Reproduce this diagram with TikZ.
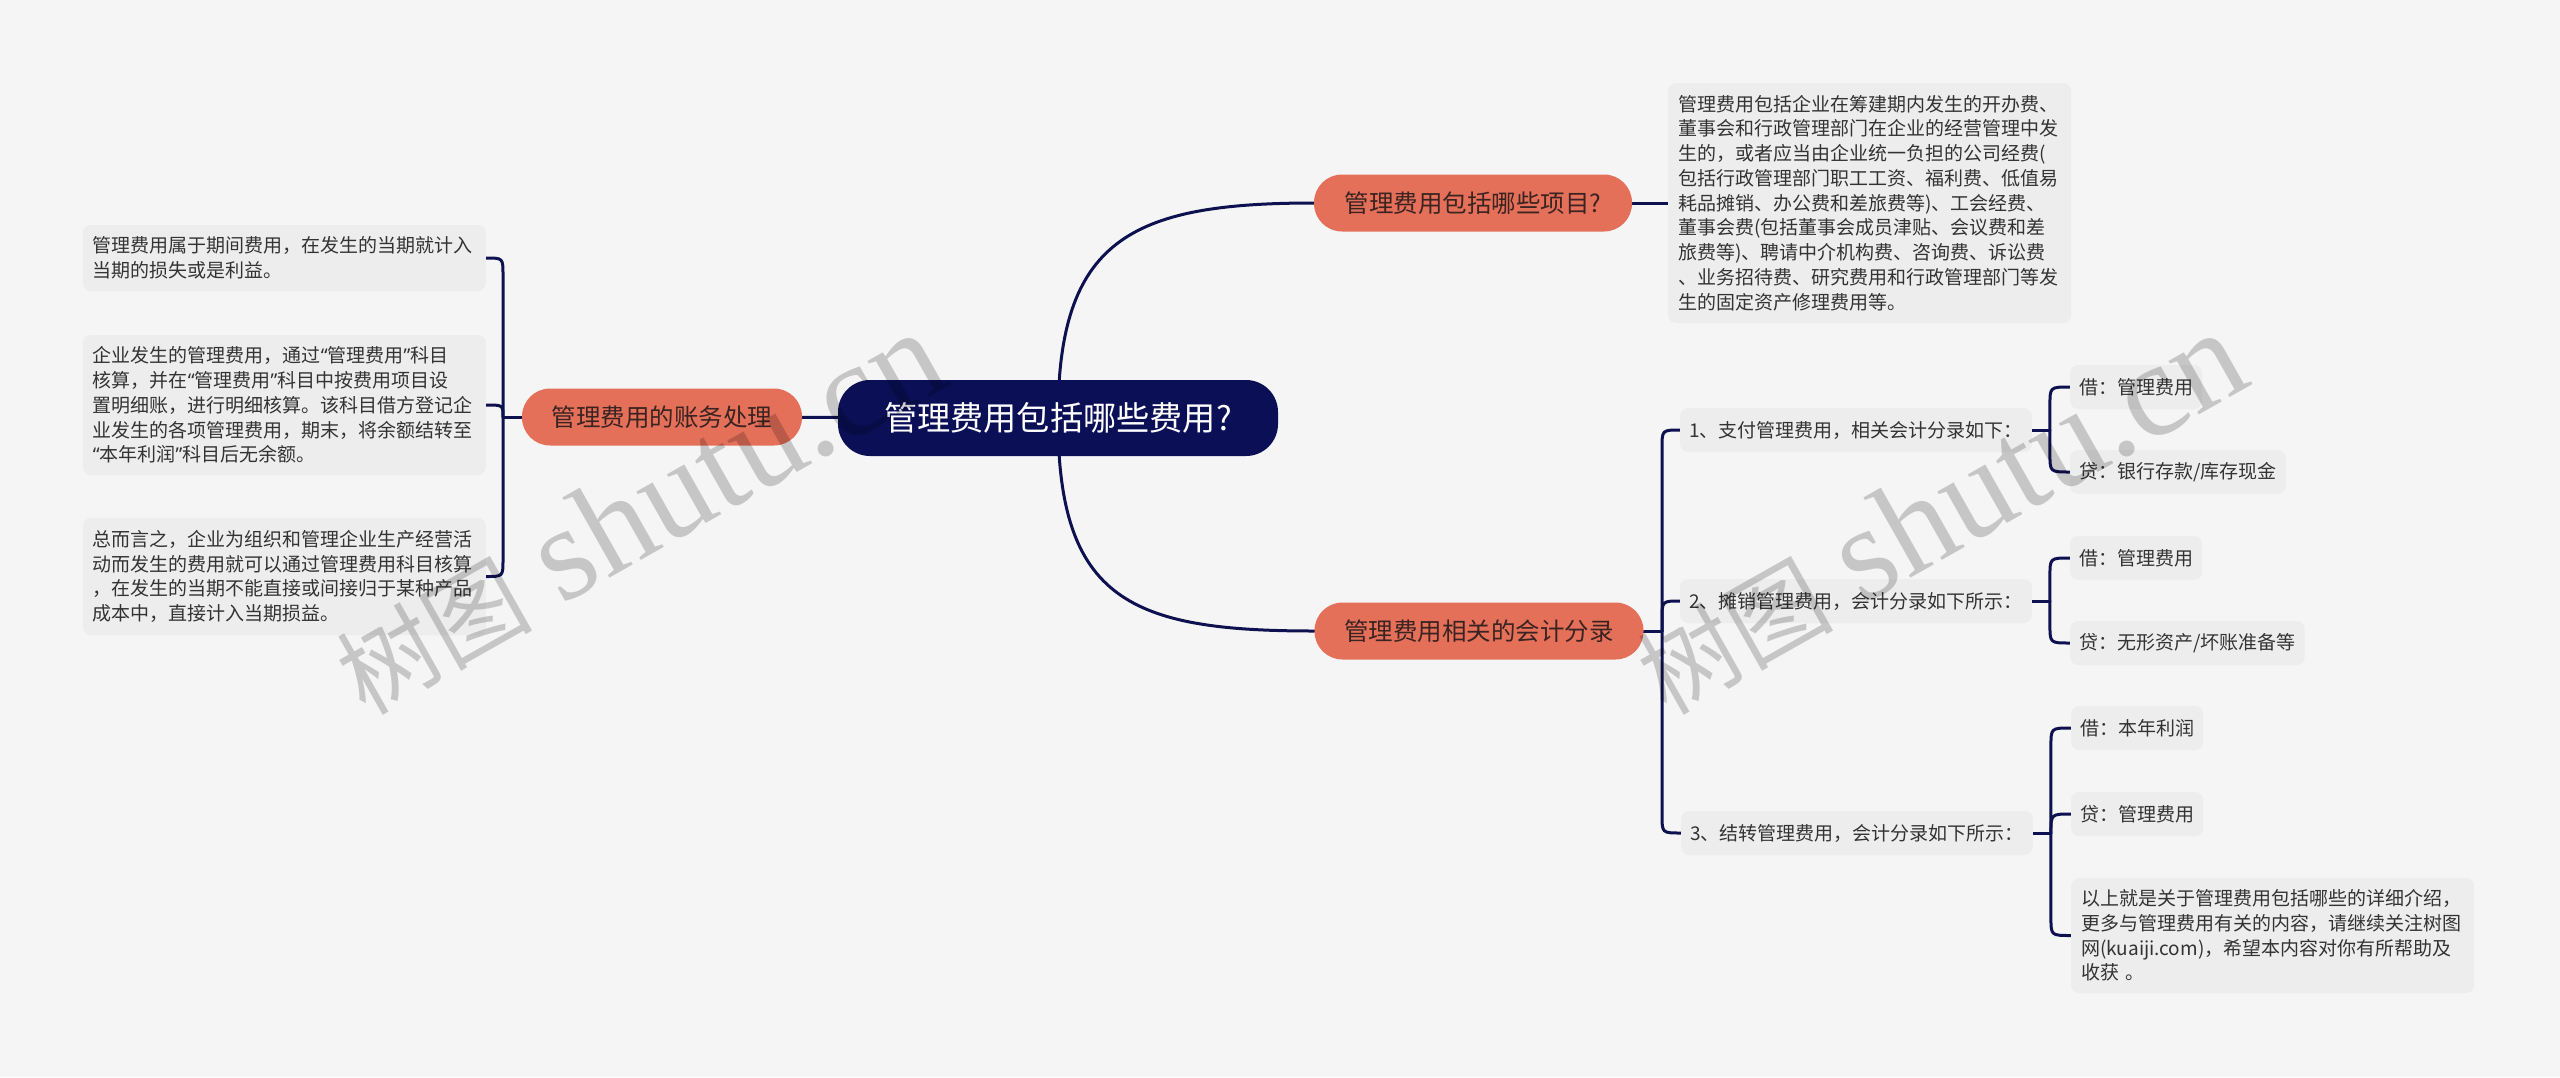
\documentclass[tikz,border=0pt]{standalone}
\usepackage{fontspec}
\setmainfont{Noto Sans CJK SC}
\newfontfamily\wmlatin{Liberation Serif}
\newfontfamily\qfont{Noto Sans}
\newcommand\zlq{{\qfont “}}
\newcommand\zrq{{\qfont ”}}
\usetikzlibrary{calc}
\pgfdeclarelayer{bg}
\pgfsetlayers{bg,main}
\definecolor{bgc}{HTML}{F5F5F5}
\definecolor{boxc}{HTML}{EDEDED}
\definecolor{navy}{HTML}{0B0F56}
\definecolor{linec}{HTML}{0E1150}
\definecolor{orng}{HTML}{E5705A}
\definecolor{orngtxt}{HTML}{3A2320}
\definecolor{txt}{HTML}{333333}
\tikzset{
  rootbox/.style={fill=navy, text=white, rounded corners=32, minimum width=440, minimum height=76, inner sep=0, font=\fontsize{33.2}{36}\selectfont},
  topic/.style={fill=orng, text=orngtxt, rounded corners=28, minimum height=57, inner sep=0, font=\fontsize{24.5}{28}\selectfont},
  leaf/.style={fill=boxc, text=txt, rounded corners=8, inner xsep=10, inner ysep=0, text width=383, align=left, font=\fontsize{19}{24.75}\selectfont},
  item/.style={fill=boxc, text=txt, rounded corners=8, inner xsep=9, inner ysep=0, minimum height=44, font=\fontsize{19}{24.75}\selectfont},
  conn/.style={draw=linec, line width=3, line cap=round},
  wm/.style={text=black, text opacity=0.19, rotate=29.5, anchor=base west, inner sep=0}
}
\begin{document}
\begin{tikzpicture}[x=1pt,y=-1pt]
\useasboundingbox (0,0) rectangle (2560,1077);

% central and main topics
\node[rootbox] (root) at (1058,418) {管理费用包括哪些费用?\hspace{13pt}};
\node[topic, minimum width=318] (O1) at (1473,203) {管理费用包括哪些项目?};
\node[topic, minimum width=329] (O2) at (1479,631) {管理费用相关的会计分录};
\node[topic, minimum width=280] (OL) at (662,417) {管理费用的账务处理};

% left leaves
\node[leaf, anchor=east, minimum height=66] (l1) at (486,258) {管理费用属于期间费用，在发生的当期就计入\\当期的损失或是利益。};
\node[leaf, anchor=east, minimum height=140] (l2) at (486,405) {企业发生的管理费用，通过\zlq 管理费用\zrq 科目\\核算，并在\zlq 管理费用\zrq 科目中按费用项目设\\置明细账，进行明细核算。该科目借方登记企\\业发生的各项管理费用，期末，将余额结转至\\\zlq 本年利润\zrq 科目后无余额。};
\node[leaf, anchor=east, minimum height=117] (l3) at (486,576.5) {总而言之，企业为组织和管理企业生产经营活\\动而发生的费用就可以通过管理费用科目核算\\，在发生的当期不能直接或间接归于某种产品\\成本中，直接计入当期损益。};

% right top leaf
\node[leaf, anchor=west, minimum height=240] (lR) at (1668,203) {管理费用包括企业在筹建期内发生的开办费、\\董事会和行政管理部门在企业的经营管理中发\\生的，或者应当由企业统一负担的公司经费(\\包括行政管理部门职工工资、福利费、低值易\\耗品摊销、办公费和差旅费等)、工会经费、\\董事会费(包括董事会成员津贴、会议费和差\\旅费等)、聘请中介机构费、咨询费、诉讼费\\、业务招待费、研究费用和行政管理部门等发\\生的固定资产修理费用等。};

% right bottom items
\node[item, anchor=west] (s1) at (1680,430) {1、支付管理费用，相关会计分录如下：};
\node[item, anchor=west] (s2) at (1680,601) {2、摊销管理费用，会计分录如下所示：};
\node[item, anchor=west] (s3) at (1681,833) {3、结转管理费用，会计分录如下所示：};
\coordinate (jL) at (503,417);
\coordinate (jR) at (1662,631);
\coordinate (j1) at ($(s1.east)+(18,0)$);
\coordinate (j2) at ($(s2.east)+(18,0)$);
\coordinate (j3) at ($(s3.east)+(18,0)$);
\node[item, anchor=west] (c11) at ($(j1)+(20,-43)$) {借：管理费用};
\node[item, anchor=west] (c12) at ($(j1)+(20,42)$) {贷：银行存款/库存现金};
\node[item, anchor=west] (c21) at ($(j2)+(20,-43)$) {借：管理费用};
\node[item, anchor=west] (c22) at ($(j2)+(20,42)$) {贷：无形资产/坏账准备等};
\node[item, anchor=west] (c31) at ($(j3)+(20,-105)$) {借：本年利润};
\node[item, anchor=west] (c32) at ($(j3)+(20,-19)$) {贷：管理费用};
\node[leaf, anchor=west, minimum height=115] (c33) at ($(j3)+(20,102.5)$) {以上就是关于管理费用包括哪些的详细介绍，\\更多与管理费用有关的内容，请继续关注树图\\网(kuaiji.com)，希望本内容对你有所帮助及\\收获 。};

\begin{pgfonlayer}{bg}
  \fill[bgc] (0,0) rectangle (2560,1077);
  % root connectors
  \draw[conn] (root.center) .. controls +(0,-178) and +(-184,0) .. (O1.west);
  \draw[conn] (root.center) .. controls +(0,182) and +(-184,0) .. (O2.west);
  \draw[conn] (root.center) -- (OL.center);
  \draw[conn] (O1.center) -- (lR.west);
  % left bracket
  \draw[conn] (OL.center) -- (jL);
  \draw[conn] (jL) -- ($(jL|-l1.east)+(0,17)$) .. controls (jL|-l1.east) .. (l1.east);
  \draw[conn] (jL) .. controls (jL|-l2.east) .. (l2.east);
  \draw[conn] (jL) -- ($(jL|-l3.east)+(0,-17)$) .. controls (jL|-l3.east) .. (l3.east);
  % right bracket
  \draw[conn] (O2.center) -- (jR);
  \draw[conn] (jR) -- ($(jR|-s1.west)+(0,18)$) .. controls (jR|-s1.west) .. (s1.west);
  \draw[conn] (jR) -- ($(jR|-s2.west)+(0,18)$) .. controls (jR|-s2.west) .. (s2.west);
  \draw[conn] (jR) -- ($(jR|-s3.west)+(0,-18)$) .. controls (jR|-s3.west) .. (s3.west);
  % sub brackets
  \draw[conn] (s1.east) -- (j1);
  \draw[conn] (j1) -- ($(j1|-c11.west)+(0,18)$) .. controls (j1|-c11.west) .. (c11.west);
  \draw[conn] (j1) -- ($(j1|-c12.west)+(0,-18)$) .. controls (j1|-c12.west) .. (c12.west);
  \draw[conn] (s2.east) -- (j2);
  \draw[conn] (j2) -- ($(j2|-c21.west)+(0,18)$) .. controls (j2|-c21.west) .. (c21.west);
  \draw[conn] (j2) -- ($(j2|-c22.west)+(0,-18)$) .. controls (j2|-c22.west) .. (c22.west);
  \draw[conn] (s3.east) -- (j3);
  \draw[conn] (j3) -- ($(j3|-c31.west)+(0,18)$) .. controls (j3|-c31.west) .. (c31.west);
  \draw[conn] (j3) .. controls (j3|-c32.west) .. (c32.west);
  \draw[conn] (j3) -- ($(j3|-c33.west)+(0,-18)$) .. controls (j3|-c33.west) .. (c33.west);
\end{pgfonlayer}

% watermarks
\node[wm] (wm1) at (365,717) {\fontsize{98}{98}\selectfont 树图\hspace{30pt}{\wmlatin\fontsize{134}{134}\selectfont shutu.cn}};
\node[wm] (wm2) at (1666,717) {\fontsize{98}{98}\selectfont 树图\hspace{30pt}{\wmlatin\fontsize{134}{134}\selectfont shutu.cn}};
\end{tikzpicture}
\end{document}
